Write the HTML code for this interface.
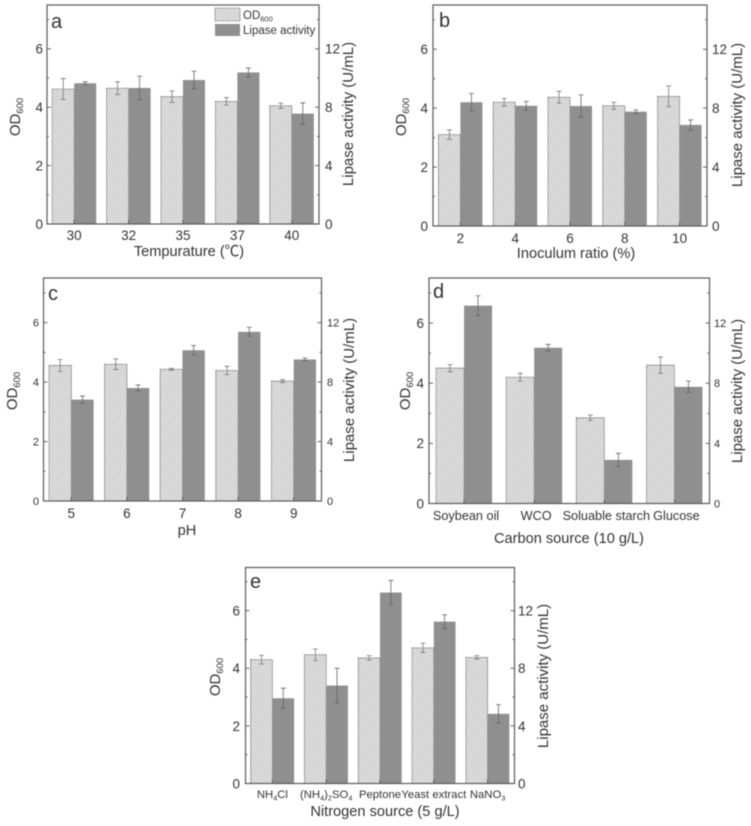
<!DOCTYPE html>
<html lang="en">
<head>
<meta charset="utf-8">
<title>OD600 and lipase activity under culture conditions</title>
<style>
html,body{margin:0;padding:0;background:#fff;}
#figure{display:block;filter:blur(0.45px);}
text{font-family:"Liberation Sans","Noto Sans CJK SC",sans-serif;fill:#333;}
.title{font-size:14.6px;}
.ylab{font-size:15px;}
.letter{font-size:20px;}
</style>
</head>
<body>
<svg id="figure" width="751" height="826" viewBox="0 0 751 826" xmlns="http://www.w3.org/2000/svg">
<defs>
<pattern id="hatch" patternUnits="userSpaceOnUse" width="2.2" height="2.2" patternTransform="rotate(-45)">
<rect width="2.2" height="2.2" fill="#eeeeee"/>
<rect width="2.2" height="0.8" fill="#b0b0b0"/>
</pattern>
</defs>
<rect width="751" height="826" fill="#fff"/>

<g id="panel-a">
<text class="letter" x="51" y="28">a</text>
<text class="title" x="189" y="256" text-anchor="middle">Tempurature (℃)</text>
<text class="ylab" transform="translate(20 117) rotate(-90)" text-anchor="middle">OD<tspan font-size="9.5" dy="3">600</tspan></text>
<text class="ylab" transform="translate(353 114) rotate(-90)" text-anchor="middle">Lipase activity (U/mL)</text>
</g>

<g id="panel-b">
<text class="letter" x="439" y="27">b</text>
<text class="title" x="576" y="258" text-anchor="middle">Inoculum ratio (%)</text>
<text class="ylab" transform="translate(406 117) rotate(-90)" text-anchor="middle">OD<tspan font-size="9.5" dy="3">600</tspan></text>
<text class="ylab" transform="translate(742 115) rotate(-90)" text-anchor="middle">Lipase activity (U/mL)</text>
</g>

<g id="panel-c">
<text class="letter" x="48" y="300">c</text>
<text class="title" x="187" y="535" text-anchor="middle">pH</text>
<text class="ylab" transform="translate(17 391) rotate(-90)" text-anchor="middle">OD<tspan font-size="9.5" dy="3">600</tspan></text>
<text class="ylab" transform="translate(354 390) rotate(-90)" text-anchor="middle">Lipase activity (U/mL)</text>
</g>

<g id="panel-d">
<text class="letter" x="433" y="298">d</text>
<text class="title" x="569" y="543" text-anchor="middle">Carbon source (10 g/L)</text>
<text class="ylab" transform="translate(410 391) rotate(-90)" text-anchor="middle">OD<tspan font-size="9.5" dy="3">600</tspan></text>
<text class="ylab" transform="translate(742 391) rotate(-90)" text-anchor="middle">Lipase activity (U/mL)</text>
</g>

<g id="panel-e">
<text class="letter" x="250" y="588">e</text>
<text class="title" x="385" y="816" text-anchor="middle">Nitrogen source (5 g/L)</text>
<text class="ylab" transform="translate(220 677) rotate(-90)" text-anchor="middle">OD<tspan font-size="9.5" dy="3">600</tspan></text>
<text class="ylab" transform="translate(548 676) rotate(-90)" text-anchor="middle">Lipase activity (U/mL)</text>
</g>

<g id="legend">
<rect x="215" y="8" width="25" height="13" fill="url(#hatch)" stroke="#666" stroke-width="0.8" stroke-dasharray="1.2 0.8"/>
<text x="243" y="19" font-size="11.5">OD<tspan font-size="7.5" dy="2.5">600</tspan></text>
<rect x="215" y="24" width="25" height="12" fill="#8f8f8f"/>
<text x="243" y="34" font-size="11.5">Lipase activity</text>
</g>
</svg>

<script>
// Shared axis values
const leftTicks = [0, 2, 4, 6];
const rightTicks = [0, 4, 8, 12];
const leftMinorTicks = [1, 3, 5, 7];
const rightMinorTicks = [2, 6, 10, 14];
const leftMax = 7.5;
const rightMax = 15;

// Panel a: temperature
const tempCategories = ['30', '32', '35', '37', '40'];
const tempOd = [4.62, 4.65, 4.36, 4.2, 4.05];
const tempOdErr = [0.36, 0.22, 0.2, 0.13, 0.09];
const tempLipase = [9.64, 9.32, 9.86, 10.38, 7.56];
const tempLipaseErr = [0.1, 0.8, 0.6, 0.3, 0.74];

// Panel b: inoculum ratio
const inoculumCategories = ['2', '4', '6', '8', '10'];
const inoculumOd = [3.1, 4.2, 4.37, 4.08, 4.4];
const inoculumOdErr = [0.16, 0.13, 0.2, 0.12, 0.35];
const inoculumLipase = [8.4, 8.16, 8.14, 7.76, 6.86];
const inoculumLipaseErr = [0.6, 0.3, 0.76, 0.12, 0.34];

// Panel c: pH
const phCategories = ['5', '6', '7', '8', '9'];
const phOd = [4.56, 4.6, 4.43, 4.39, 4.03];
const phOdErr = [0.2, 0.18, 0.03, 0.14, 0.05];
const phLipase = [6.82, 7.6, 10.14, 11.38, 9.52];
const phLipaseErr = [0.24, 0.2, 0.32, 0.3, 0.1];

// Panel d: carbon source
const carbonCategories = ['Soybean oil', 'WCO', 'Soluable starch', 'Glucose'];
const carbonOd = [4.5, 4.2, 2.85, 4.6];
const carbonOdErr = [0.12, 0.13, 0.09, 0.27];
const carbonLipase = [13.16, 10.36, 2.9, 7.76];
const carbonLipaseErr = [0.66, 0.22, 0.44, 0.38];

// Panel e: nitrogen source ("_4" marks a subscript)
const nitrogenCategories = ['NH_4Cl', '(NH_4)_2SO_4', 'Peptone', 'Yeast extract', 'NaNO_3'];
const nitrogenOd = [4.3, 4.47, 4.36, 4.71, 4.38];
const nitrogenOdErr = [0.15, 0.2, 0.08, 0.16, 0.06];
const nitrogenLipase = [5.92, 6.8, 13.26, 11.24, 4.84];
const nitrogenLipaseErr = [0.7, 1.2, 0.84, 0.48, 0.64];

const NS = 'http://www.w3.org/2000/svg';

function make(parent, tag, attrs) {
  const el = document.createElementNS(NS, tag);
  for (const k in attrs) el.setAttribute(k, attrs[k]);
  parent.appendChild(el);
  return el;
}

function fillLabel(el, label, size) {
  label.split(/(_\d)/).forEach(function (part) {
    if (!part) return;
    const span = document.createElementNS(NS, 'tspan');
    if (part[0] === '_') {
      span.textContent = part.slice(1);
      span.setAttribute('font-size', size * 0.65);
      span.setAttribute('dy', '2.5');
    } else {
      span.textContent = part;
      if (el.lastChild && el.lastChild.hasAttribute('dy')) span.setAttribute('dy', '-2.5');
    }
    el.appendChild(span);
  });
}

function drawPanel(p, cats, od, odErr, lip, lipErr) {
  const root = document.getElementById('panel-' + p.id);
  const yL = function (v) { return p.bottom - v / leftMax * (p.bottom - p.top); };
  const yR = function (v) { return p.bottom - v / rightMax * (p.bottom - p.top); };
  const step = (p.right - p.left) / cats.length;
  const xC = function (i) { return p.left + (i + 0.5) * step; };

  cats.forEach(function (cat, i) {
    const c = xC(i);

    const odBar = make(root, 'rect', {x: c - p.bw, y: yL(od[i]), width: p.bw, height: p.bottom - yL(od[i]), fill: 'url(#hatch)', stroke: '#555', 'stroke-width': 0.8, 'stroke-dasharray': '1.2 0.8'});
    
    

    const lipBar = make(root, 'rect', {x: c, y: yR(lip[i]), width: p.bw, height: p.bottom - yR(lip[i]), fill: '#8f8f8f'});
    
    

    const odX = c - p.bw / 2;
    const odErrPath = 'M' + odX + ' ' + yL(od[i] - odErr[i]) + 'V' + yL(od[i] + odErr[i]) +
      'M' + (odX - 2.5) + ' ' + yL(od[i] + odErr[i]) + 'h5' +
      'M' + (odX - 2.5) + ' ' + yL(od[i] - odErr[i]) + 'h5';
    const odErrEl = make(root, 'path', {d: odErrPath, stroke: '#777', 'stroke-width': 0.8, fill: 'none'});
    
    

    const lipX = c + p.bw / 2;
    const lipErrPath = 'M' + lipX + ' ' + yR(lip[i] - lipErr[i]) + 'V' + yR(lip[i] + lipErr[i]) +
      'M' + (lipX - 2.5) + ' ' + yR(lip[i] + lipErr[i]) + 'h5' +
      'M' + (lipX - 2.5) + ' ' + yR(lip[i] - lipErr[i]) + 'h5';
    const lipErrEl = make(root, 'path', {d: lipErrPath, stroke: '#666', 'stroke-width': 0.8, fill: 'none'});
    
    

    const xTick = make(root, 'line', {x1: c, x2: c, y1: p.bottom, y2: p.bottom - 4, stroke: '#555', 'stroke-width': 0.9});
    
    

    const xLabel = make(root, 'text', {x: c + (p.catNudge || 0), y: p.xLabelY, 'text-anchor': 'middle', 'font-size': p.catSize});
    
    
    fillLabel(xLabel, cat, p.catSize);
  });

  const frame = make(root, 'rect', {x: p.left, y: p.top, width: p.right - p.left, height: p.bottom - p.top, fill: 'none', stroke: '#5a5a5a', 'stroke-width': 1.2});
  
  

  leftTicks.forEach(function (v) {
    const t = make(root, 'line', {x1: p.left, x2: p.left + 4, y1: yL(v), y2: yL(v), stroke: '#555', 'stroke-width': 0.9});
    
    
    const l = make(root, 'text', {x: p.leftLabelX, y: yL(v) + p.leftSize * 0.36, 'text-anchor': 'end', 'font-size': p.leftSize});
    
    
    l.textContent = v;
  });

  leftMinorTicks.forEach(function (v) {
    const t = make(root, 'line', {x1: p.left, x2: p.left + 2, y1: yL(v), y2: yL(v), stroke: '#555', 'stroke-width': 0.9});
    
    
  });

  rightTicks.forEach(function (v) {
    const t = make(root, 'line', {x1: p.right, x2: p.right - 4, y1: yR(v), y2: yR(v), stroke: '#555', 'stroke-width': 0.9});
    
    
    const l = make(root, 'text', {x: p.rightLabelX, y: yR(v) + p.rightSize * 0.36, 'font-size': p.rightSize});
    
    
    l.textContent = v;
  });

  rightMinorTicks.forEach(function (v) {
    const t = make(root, 'line', {x1: p.right, x2: p.right - 2, y1: yR(v), y2: yR(v), stroke: '#555', 'stroke-width': 0.9});
    
    
  });
}

drawPanel({id: 'a', left: 47, right: 319, top: 5, bottom: 224, bw: 22, xLabelY: 240, catSize: 13.5, leftLabelX: 43, leftSize: 13.5, rightLabelX: 325, rightSize: 13.5},
  tempCategories, tempOd, tempOdErr, tempLipase, tempLipaseErr);
drawPanel({id: 'b', left: 433, right: 707, top: 5, bottom: 226, bw: 22, xLabelY: 243, catSize: 13.5, leftLabelX: 428, leftSize: 13.5, rightLabelX: 712, rightSize: 13.5},
  inoculumCategories, inoculumOd, inoculumOdErr, inoculumLipase, inoculumLipaseErr);
drawPanel({id: 'c', left: 43.5, right: 321.5, top: 278, bottom: 501, bw: 22.3, xLabelY: 518, catSize: 13.5, leftLabelX: 39, leftSize: 11, rightLabelX: 327, rightSize: 11},
  phCategories, phOd, phOdErr, phLipase, phLipaseErr);
drawPanel({id: 'd', left: 429, right: 709.5, top: 278, bottom: 503.5, bw: 28, xLabelY: 520, catSize: 12.7, catNudge: 2, leftLabelX: 424, leftSize: 13.5, rightLabelX: 714, rightSize: 11},
  carbonCategories, carbonOd, carbonOdErr, carbonLipase, carbonLipaseErr);
drawPanel({id: 'e', left: 245.5, right: 514.5, top: 567.5, bottom: 783.5, bw: 21.7, xLabelY: 798, catSize: 11.3, leftLabelX: 240, leftSize: 13.5, rightLabelX: 518, rightSize: 13.5},
  nitrogenCategories, nitrogenOd, nitrogenOdErr, nitrogenLipase, nitrogenLipaseErr);
</script>
</body>
</html>
